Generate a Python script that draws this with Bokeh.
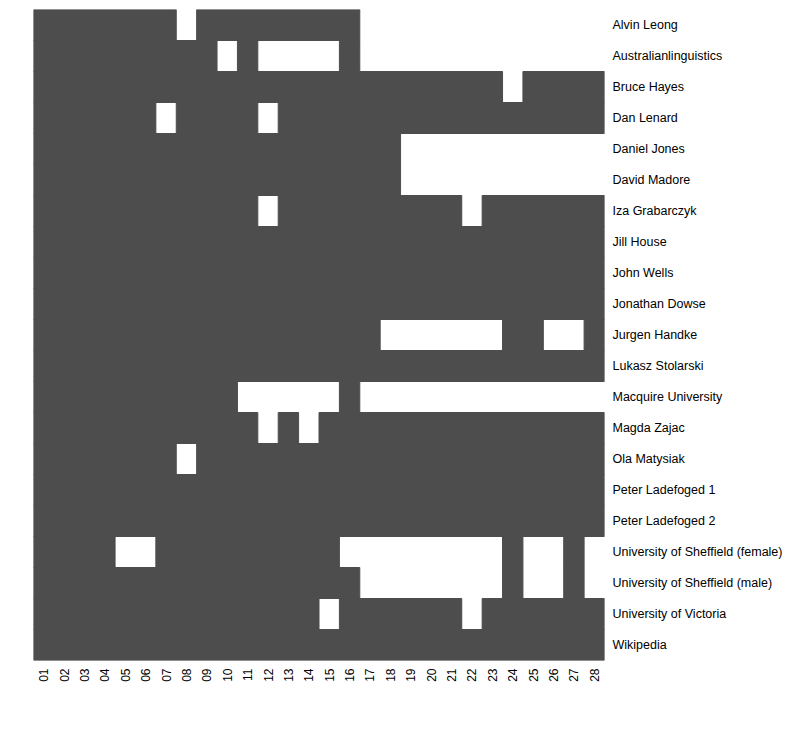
import math
from bokeh.plotting import figure
from bokeh.models import ColumnDataSource, Range1d, FixedTicker
from bokeh.embed import file_html
from bokeh.resources import INLINE

columns = ["%02d" % i for i in range(1, 29)]

names = [
    "Alvin Leong", "Australianlinguistics", "Bruce Hayes", "Dan Lenard",
    "Daniel Jones", "David Madore", "Iza Grabarczyk", "Jill House",
    "John Wells", "Jonathan Dowse", "Jurgen Handke", "Lukasz Stolarski",
    "Macquire University", "Magda Zajac", "Ola Matysiak",
    "Peter Ladefoged 1", "Peter Ladefoged 2",
    "University of Sheffield (female)", "University of Sheffield (male)",
    "University of Victoria", "Wikipedia",
]

# 1 = recording present (dark cell), 0 = missing (white), columns 01..28
present = [
    "1111111011111111000000000000",
    "1111111110100001000000000000",
    "1111111111111111111111101111",
    "1111110111101111111111111111",
    "1111111111111111110000000000",
    "1111111111111111110000000000",
    "1111111111101111111110111111",
    "1111111111111111111111111111",
    "1111111111111111111111111111",
    "1111111111111111111111111111",
    "1111111111111111100000011001",
    "1111111111111111111111111111",
    "1111111111000001000000000000",
    "1111111111101011111111111111",
    "1111111011111111111111111111",
    "1111111111111111111111111111",
    "1111111111111111111111111111",
    "1111001111111110000000010010",
    "1111111111111111000000010010",
    "1111111111111101111110111111",
    "1111111111111111111111111111",
]

# merge consecutive present cells of a row into one block (avoids seams)
left, right, top, bottom = [], [], [], []
for r, row in enumerate(present, start=1):
    c = 0
    while c < len(row):
        if row[c] == "1":
            start = c
            while c < len(row) and row[c] == "1":
                c += 1
            left.append(start + 0.5)
            right.append(c + 0.5)
            top.append(r - 0.5)
            bottom.append(r + 0.5)
        else:
            c += 1

src = ColumnDataSource(dict(left=left, right=right, top=top, bottom=bottom))

p = figure(
    width=787, height=740,
    x_range=Range1d(0.5, len(columns) + 0.5),
    y_range=Range1d(len(names) + 0.5, 0.5),
    x_axis_location="below", y_axis_location="right",
    output_backend="svg", toolbar_location=None,
    min_border_left=33, min_border_right=183,
    min_border_top=9, min_border_bottom=80,
)
p.quad(left="left", right="right", top="top", bottom="bottom", source=src,
       fill_color="#4d4d4d", line_color="#4d4d4d", line_width=1)

p.xaxis.ticker = FixedTicker(ticks=list(range(1, len(columns) + 1)))
p.xaxis.major_label_overrides = {i + 1: c for i, c in enumerate(columns)}
p.yaxis.ticker = FixedTicker(ticks=list(range(1, len(names) + 1)))
p.yaxis.major_label_overrides = {i + 1: n for i, n in enumerate(names)}

p.outline_line_color = None
p.xgrid.grid_line_color = None
p.ygrid.grid_line_color = None
for ax in (p.xaxis[0], p.yaxis[0]):
    ax.axis_line_color = None
    ax.major_tick_line_color = None
    ax.minor_tick_line_color = None
    ax.major_tick_out = 0
    ax.major_tick_in = 0
    ax.major_label_text_font = "Liberation Sans"
    ax.major_label_text_font_size = "12.5px"
    ax.major_label_text_color = "#000000"
    ax.major_label_standoff = 8
p.xaxis[0].major_label_orientation = math.pi / 2
p.xaxis[0].major_label_text_font_size = "12px"

open("out.html", "w").write(file_html(p, INLINE))
